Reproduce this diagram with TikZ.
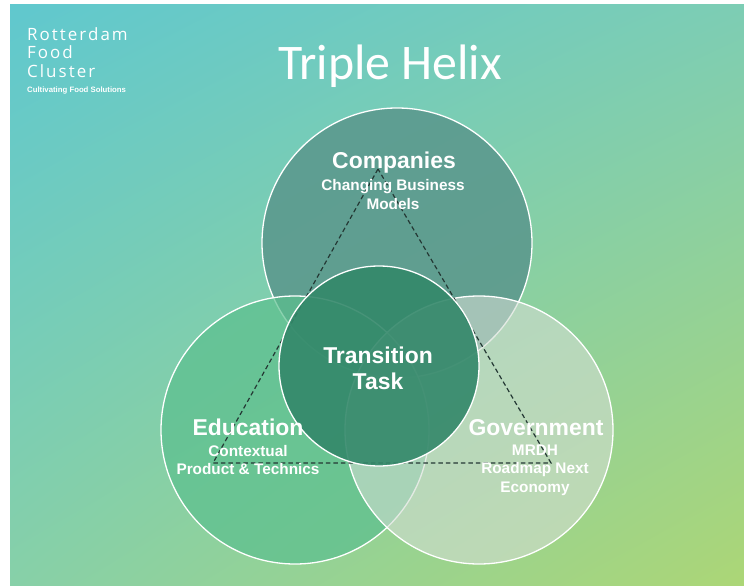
\documentclass[tikz,border=0pt]{standalone}
\usepackage{fontspec}
\usetikzlibrary{shadings}
\setmainfont{Liberation Sans}
\newfontfamily\titlefont{Carlito}
\newfontfamily\logofont[LetterSpace=12]{Open Sans}

\definecolor{bgtl}{RGB}{96,200,206}
\definecolor{bgtr}{RGB}{125,205,180}
\definecolor{bgbl}{RGB}{135,208,168}
\definecolor{bgbr}{RGB}{172,214,118}
\definecolor{compfill}{RGB}{90,150,140}
\definecolor{edufill}{RGB}{91,191,142}
\definecolor{govfill}{RGB}{210,221,210}
\definecolor{taskfill}{RGB}{51,136,106}
\definecolor{linkgrey}{RGB}{36,56,52}

\begin{document}
\begin{tikzpicture}[x=1bp, y=-1bp,
        ring/.style={draw=white, line width=1.3bp},
        link/.style={draw=linkgrey, dash pattern=on 4.5bp off 3bp, line width=1.2bp},
        head/.style={text=white, inner sep=0pt, font=\bfseries\fontsize{23}{25}\selectfont},
        sub/.style={text=white, inner sep=0pt, align=center, font=\bfseries\fontsize{15.4}{18.5}\selectfont}]

            \useasboundingbox (0,0) rectangle (744,586);
            \fill[white] (0,0) rectangle (744,586);
            \shade[upper left=bgtl, upper right=bgtr, lower left=bgbl, lower right=bgbr] (10,5) rectangle (744,586);

            \node[text=white, inner sep=0pt, anchor=north west, align=left, font=\logofont\fontsize{17}{19}\selectfont] (brand) at (27,27) {Rotterdam\\Food\\Cluster};
            \node[text=white, inner sep=0pt, anchor=base west, font=\bfseries\fontsize{7.8}{9}\selectfont] (slogan) at (27,93) {Cultivating Food Solutions};
            \node[text=white, inner sep=0pt, anchor=base, font=\titlefont\fontsize{50}{56}\selectfont] (title) at (390,80) {Triple Helix};

            \coordinate (comp) at (397,243);
            \coordinate (edu) at (295,430);
            \coordinate (gov) at (479,430);
            \coordinate (task) at (379,366);

            \path[ring, fill=compfill, fill opacity=0.85] (comp) circle[radius=135];
            \path[ring, fill=edufill, fill opacity=0.7] (edu) circle[radius=134];
            \path[ring, fill=govfill, fill opacity=0.6] (gov) circle[radius=134];

            \coordinate (apex) at (378,169);
            \coordinate (left) at (213,463);
            \coordinate (right) at (551,463);
            \draw[link] (apex) -- (left) -- (right) -- cycle;

            \path[ring, fill=taskfill, fill opacity=0.9] (task) circle[radius=100];

            \node[head] (comphead) at (394,163) {Companies};
            \node[sub] (compsub) at (393,194.5) {Changing Business\\Models};

            \node[head] (eduhead) at (248,427.5) {Education};
            \node[sub] (edusub) at (248,460) {Contextual\\Product \& Technics};

            \node[head] (govhead) at (536,428) {Government};
            \node[sub] (govsub) at (535,470) {MRDH\\Roadmap Next\\Economy};

            \node[sub, font=\bfseries\fontsize{23}{26}\selectfont] (tasktext) at (378,368) {Transition\\Task};
        \end{tikzpicture}
\end{document}
